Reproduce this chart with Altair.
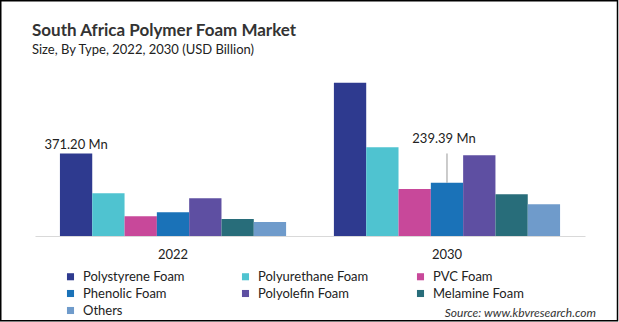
import altair as alt
import pandas as pd

types = ["Polystyrene Foam", "Polyurethane Foam", "PVC Foam", "Phenolic Foam",
         "Polyolefin Foam", "Melamine Foam", "Others"]
colors = ["#2E3A8F", "#4FC3D0", "#C8489A", "#1A72B8", "#5E4FA2", "#286D7A", "#6F9BCB"]
years = ["2022", "2030"]
values_2022 = [371.20, 192, 89, 107, 170, 76, 63]
values_2030 = [690, 399, 211, 239.39, 363, 188, 143]
annotations = {("2022", "Polystyrene Foam"): "371.20  Mn", ("2030", "Phenolic Foam"): "239.39  Mn"}

rows = []
for yr, vals in zip(years, [values_2022, values_2030]):
    for i, (t, v) in enumerate(zip(types, vals)):
        rows.append({"year": yr, "type": t, "order": i, "value": v,
                     "label": annotations.get((yr, t), "")})
df = pd.DataFrame(rows)

FONT = "Lato"

x = alt.X("year:N", title=None,
          scale=alt.Scale(paddingInner=0.1745, paddingOuter=0.091),
          axis=alt.Axis(labelAngle=0, ticks=False, domainColor="#d9d9d9", domainWidth=1,
                        labelPadding=12, labelFontSize=13, labelColor="#222222", labelFont=FONT))
xo = alt.XOffset("type:N", sort=types, scale=alt.Scale(paddingInner=0, paddingOuter=0))
y = alt.Y("value:Q", scale=alt.Scale(domain=[0, 720]), axis=None)

bars = alt.Chart(df).mark_bar().encode(
    x=x, xOffset=xo, y=y,
    color=alt.Color("type:N", sort=types,
                    scale=alt.Scale(domain=types, range=colors),
                    legend=alt.Legend(title=None, orient="none", legendX=29, legendY=194,
                                      direction="horizontal",
                                      columns=3, symbolType="square", symbolSize=50,
                                      symbolStrokeWidth=0, labelFontSize=13, labelFont=FONT,
                                      labelColor="#222222", labelOffset=6, rowPadding=3,
                                      columnPadding=45, gridAlign="all"))
)

lab_a = alt.Chart(df).transform_filter("datum.label != '' && datum.year == '2022'").mark_text(
    dy=-9, fontSize=13, font=FONT, color="#222222"
).encode(x=x, xOffset=xo, y=y, text="label:N")

lab_b = alt.Chart(df).transform_filter("datum.label != '' && datum.year == '2030'").mark_text(
    dy=-44, dx=-3, fontSize=13, font=FONT, color="#222222"
).encode(x=x, xOffset=xo, y=y, text="label:N")

leader = alt.Chart(df).transform_filter("datum.label != '' && datum.year == '2030'").transform_calculate(
    top="datum.value + 132"
).mark_rule(color="#999999", strokeWidth=1).encode(
    x=x, xOffset=xo, y=y, y2="top:Q")

source = alt.Chart(pd.DataFrame({"t": ["Source: www.kbvresearch.com"]})).mark_text(
    align="right", fontSize=12, font=FONT, fontStyle="italic", color="#333333", baseline="middle"
).encode(x=alt.value(561), y=alt.value(237), text="t:N")

border = alt.Chart(pd.DataFrame({"a": [1]})).mark_rect(
    fill=None, stroke="#000000", strokeWidth=1.5
).encode(x=alt.value(-34.25), x2=alt.value(582.5), y=alt.value(-75.25), y2=alt.value(244.75))

chart = alt.layer(bars, lab_a, lab_b, leader, source, border).properties(
    width=550, height=160,
    title=alt.TitleParams("South Africa Polymer Foam Market",
                          subtitle="Size, By Type, 2022, 2030 (USD Billion)",
                          anchor="start", frame="group", dx=-3, dy=58, offset=0, font=FONT, fontSize=17,
                          fontWeight="bold", color="#333333", subtitleFont=FONT,
                          subtitleFontSize=13, subtitleColor="#222222", subtitlePadding=4),
    autosize=alt.AutoSizeParams(type="none"),
    padding={"left": 35, "top": 76, "right": 34, "bottom": 86},
).configure(background="white", view=alt.ViewConfig(stroke=None))

chart.save("out.html", embed_options={"renderer": "svg", "actions": False})
